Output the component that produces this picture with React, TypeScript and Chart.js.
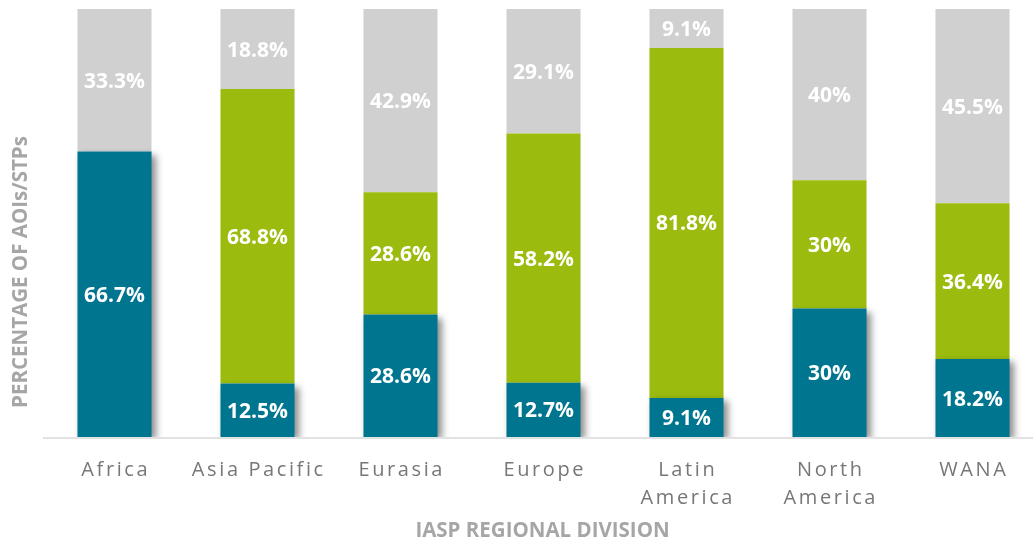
import React, { useEffect, useRef } from "react";
import { Chart, registerables } from "chart.js";

Chart.register(...registerables);

const categories: string[][] = [
  ["Africa"],
  ["Asia Pacific"],
  ["Eurasia"],
  ["Europe"],
  ["Latin", "America"],
  ["North", "America"],
  ["WANA"],
];
const tealValues = [66.7, 12.5, 28.6, 12.7, 9.1, 30, 18.2];
const greenValues = [0, 68.8, 28.6, 58.2, 81.8, 30, 36.4];
const grayValues = [33.3, 18.8, 42.9, 29.1, 9.1, 40, 45.5];
const yTitle = "PERCENTAGE OF AOIs/STPs";
const xTitle = "IASP REGIONAL DIVISION";

const TEAL = "#00758f";
const GREEN = "#9bbc0e";
const GRAY = "#d0d0d0";
const FONT = "'Open Sans', 'Noto Sans', sans-serif";

const CANVAS_W = 1050;
const CANVAS_H = 542;

const customPlugin = {
  id: "custom",
  beforeDatasetsDraw(chart: any) {
    const { ctx, chartArea } = chart;
    ctx.save();
    ctx.strokeStyle = "#d9d9d9";
    ctx.lineWidth = 1.5;
    ctx.beginPath();
    ctx.moveTo(chartArea.left, chartArea.bottom + 1);
    ctx.lineTo(chart.width, chartArea.bottom + 1);
    ctx.stroke();
    ctx.restore();
  },
  beforeDatasetDraw(chart: any, args: any) {
    if (args.index === 0) {
      const ctx = chart.ctx;
      ctx.save();
      ctx.shadowColor = "rgba(0,0,0,0.45)";
      ctx.shadowBlur = 7;
      ctx.shadowOffsetX = 4;
      ctx.shadowOffsetY = 3;
    }
  },
  afterDatasetDraw(chart: any, args: any) {
    if (args.index === 0) {
      chart.ctx.restore();
    }
  },
  afterDatasetsDraw(chart: any) {
    const { ctx } = chart;
    ctx.save();
    ctx.fillStyle = "#ffffff";
    ctx.font = `bold 21px ${FONT}`;
    ctx.textAlign = "center";
    ctx.textBaseline = "middle";
    chart.data.datasets.forEach((ds: any, di: number) => {
      const meta = chart.getDatasetMeta(di);
      meta.data.forEach((bar: any, i: number) => {
        const v = ds.data[i];
        if (!v) return;
        const top = Math.max(bar.y, chart.chartArea.top);
        const y = (top + bar.base) / 2;
        ctx.fillText(`${v}%`, bar.x, y + 1.5);
      });
    });
    ctx.restore();
  },
  afterDraw(chart: any) {
    const { ctx, chartArea } = chart;
    const xScale = chart.scales.x;
    ctx.save();
    // x tick labels
    ctx.fillStyle = "#777777";
    ctx.font = `20px ${FONT}`;
    ctx.textAlign = "center";
    ctx.textBaseline = "middle";
    (ctx as any).letterSpacing = "2.6px";
    categories.forEach((lines, i) => {
      const x = xScale.getPixelForValue(i);
      lines.forEach((line, li) => {
        ctx.fillText(line, x + 1.3, chartArea.bottom + 33 + li * 28);
      });
    });
    (ctx as any).letterSpacing = "0px";
    // axis titles
    ctx.fillStyle = "#a6a6a6";
    ctx.font = `bold 20.5px ${FONT}`;
    ctx.fillText(xTitle, (chartArea.left + chartArea.right) / 2 - 1, 531);
    ctx.translate(21, 272);
    ctx.rotate(-Math.PI / 2);
    ctx.fillText(yTitle, 0, 0);
    ctx.restore();
  },
};

export default function App() {
  const ref = useRef<HTMLCanvasElement>(null);
  useEffect(() => {
    if (!ref.current) return;
    const chart = new Chart(ref.current, {
      type: "bar",
      data: {
        labels: categories.map((c) => c.join(" ")),
        datasets: [
          { label: "A", data: tealValues, backgroundColor: TEAL, borderWidth: 0 },
          { label: "B", data: greenValues, backgroundColor: GREEN, borderWidth: 0 },
          { label: "C", data: grayValues, backgroundColor: GRAY, borderWidth: 0 },
        ],
      },
      options: {
        responsive: false,
        animation: false,
        devicePixelRatio: 1,
        layout: { padding: { left: 43, top: 9, right: CANVAS_W - 1044, bottom: CANVAS_H - 437 } },
        datasets: { bar: { categoryPercentage: 1, barPercentage: 0.518 } },
        scales: {
          x: { stacked: true, display: false },
          y: { stacked: true, display: false, min: 0, max: 100 },
        },
        plugins: { legend: { display: false }, tooltip: { enabled: false }, title: { display: false } },
      },
      plugins: [customPlugin],
    });
    return () => chart.destroy();
  }, []);
  return (
    <div style={{ position: "absolute", left: 0, top: 0, width: 1033, height: 542, overflow: "hidden", background: "#fff" }}>
      <canvas ref={ref} width={CANVAS_W} height={CANVAS_H} style={{ display: "block" }} />
    </div>
  );
}
